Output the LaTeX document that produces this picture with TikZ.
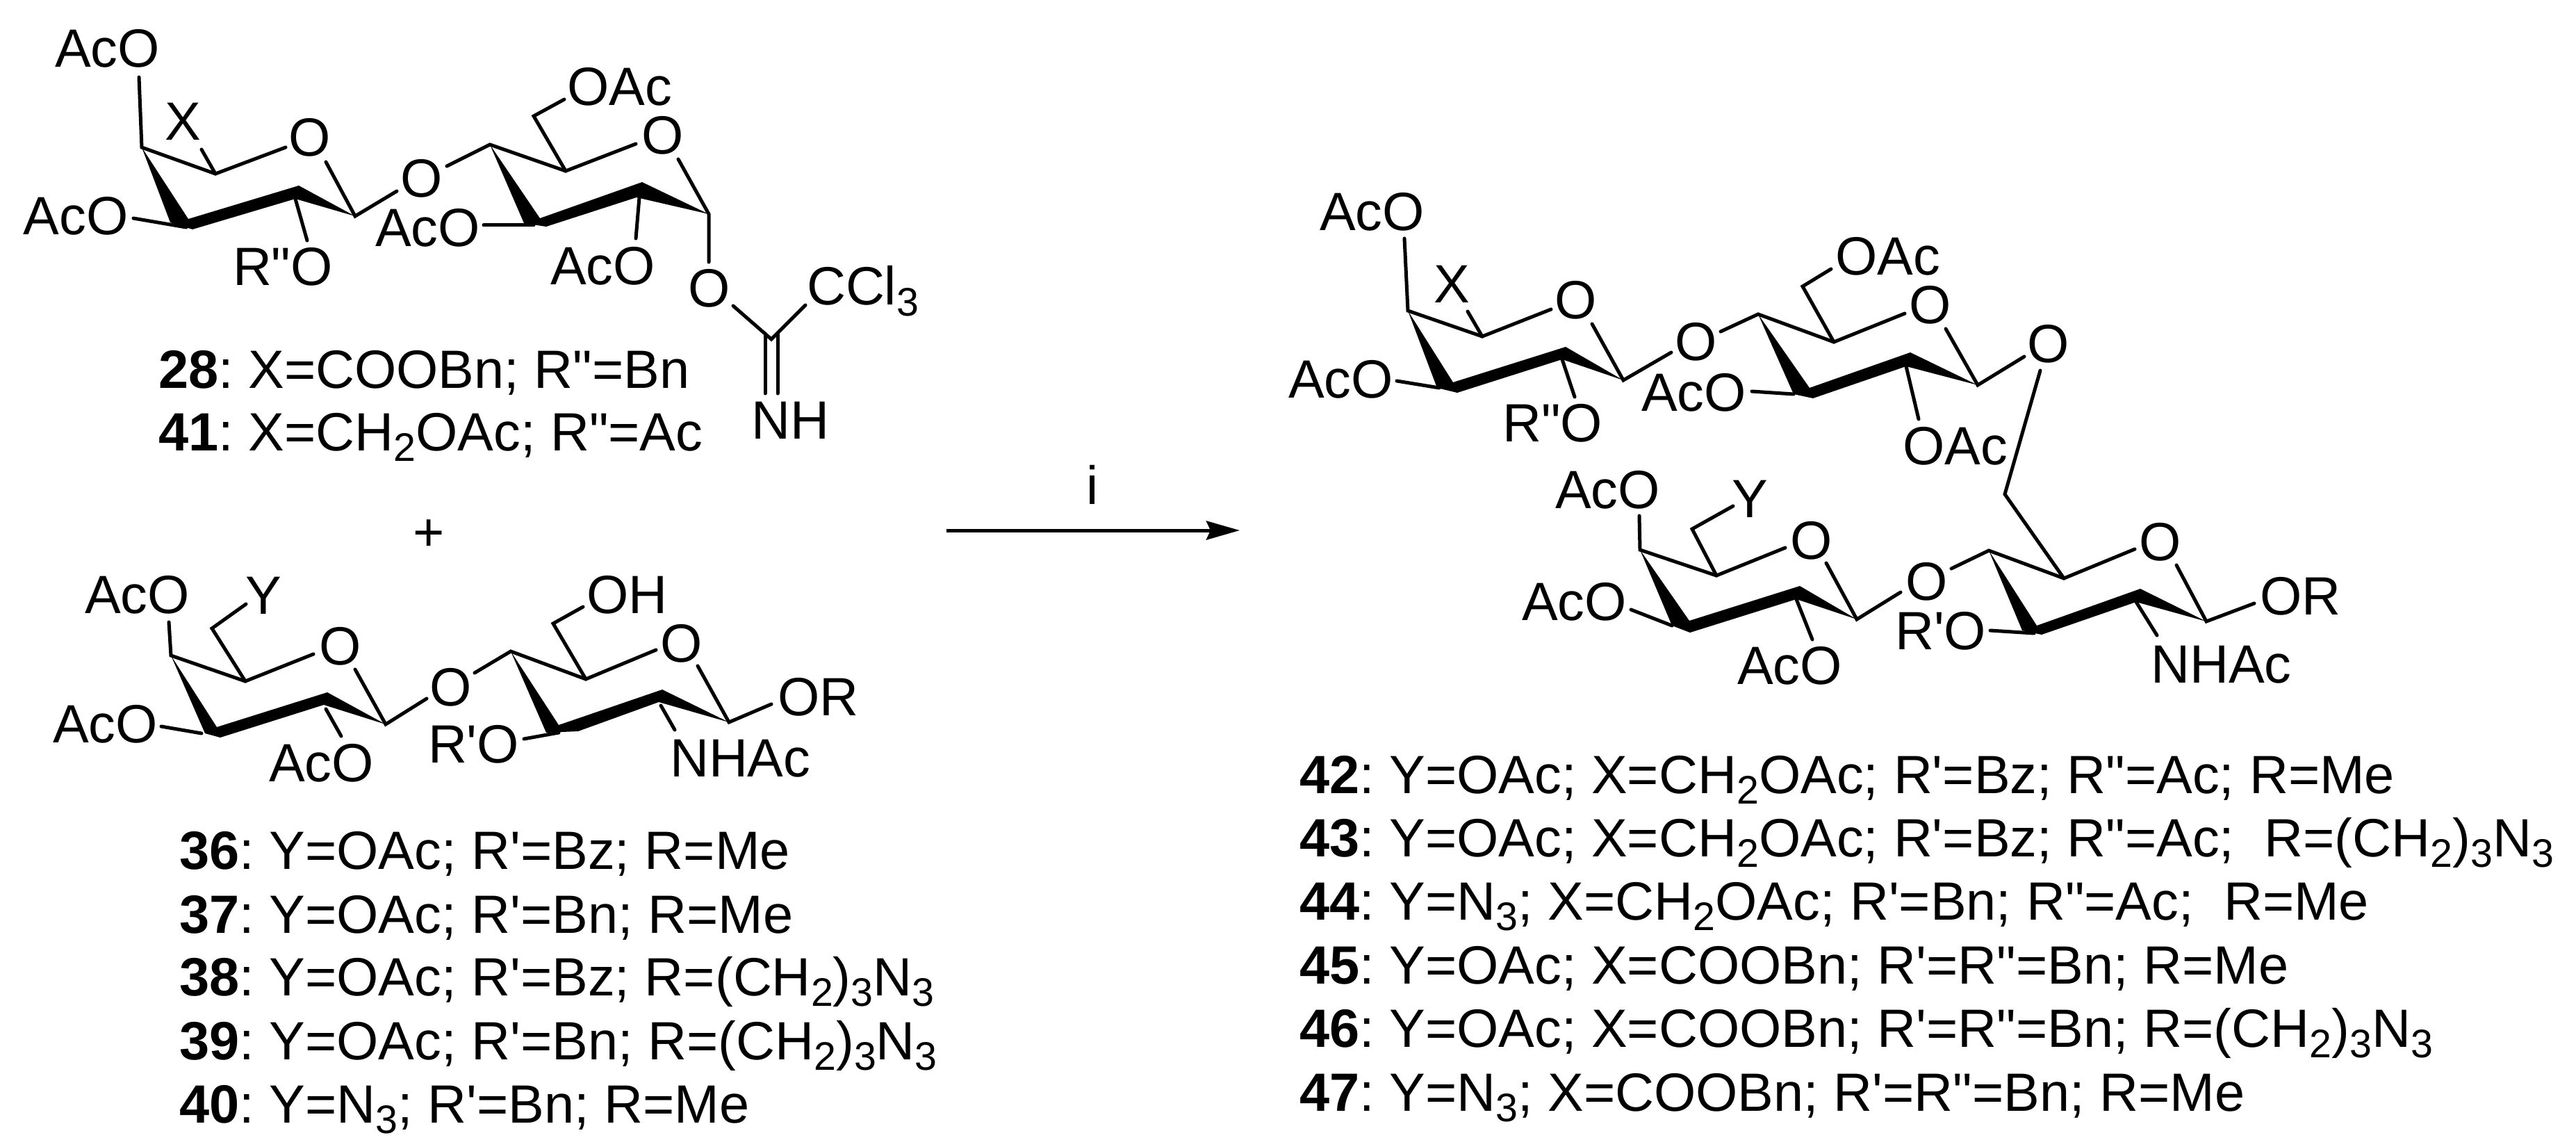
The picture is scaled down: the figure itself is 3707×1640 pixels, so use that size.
\documentclass[tikz,border=0pt]{standalone}
\usepackage{fontspec}
\usetikzlibrary{arrows.meta}
\newfontfamily\lib{Liberation Sans}
\newcommand\sbs[1]{\raisebox{-0.155cm}{\fontsize{16.3pt}{18pt}\selectfont #1}}
\newcommand\num[1]{{\bfseries #1}}
\tikzset{
  lab/.style={anchor=base west,inner sep=0pt,outer sep=0pt,font=\lib\fontsize{22.05pt}{26pt}\selectfont\frenchspacing},
  atomO/.style={lab,anchor=base},
  bond/.style={line width=0.05cm,line cap=round,line join=miter},
  wedgeb/.style={fill=black,draw=none},
  rxn/.style={line width=0.05cm,-{Stealth[length=0.48cm,width=0.27cm,inset=0.06cm]}}
}
\begin{document}
\begin{tikzpicture}[x=0.01cm,y=-0.01cm]
\useasboundingbox (0,0) rectangle (3707,1640);
\foreach \n/\x/\y in {
 a4/204/212,a5/310/250,a1/511/311,a2t/430/267,a2b/425/286,a3t/271/315,a3p/277/330,a3l/245/320,a3c/268/327,
 aTe/200/111,aXe/290/215,aOa/411/212,aOb/469/233,aLa/571/275,aLb/643/239,aRe/442/346,a3e/192/314,
 b4/705/208,b5/814/246,b6/768/167,b6e/812/143,bOa/915/207,bOb/976/229,b1/1020/308,b1e/1020/377,
 imO/1055/440,imC/1110/488,imCl/1159/439,imA/1101/480,imB/1101/566,imD/1119/480,imE/1119/566,
 b2t/924/262,b2b/916/284,b2s/920/284,b2e/915/343,b3t/777/314,b3p/786/326,b3l/754/321,b3c/768/324,b3e/696/324,
 c4/246/943,c5/353/980,c6/305/904,cYe/354/869,cTe/243/895,cOa/451/941,cOb/511/963,c1/555/1042,cLa/614/1005,cLb/683/968,
 c2t/471/996,c2b/466/1014,c2s/469/1020,c2e/491/1059,c3t/312/1046,c3p/317/1061,c3l/295/1055,c3c/290/1055,c3e/232/1045,
 f4/735/937,f5/843/977,f6/796/897,f6e/839/873,fOa/944/935,fOb/1004/958,f1/1049/1039,f1e/1110/1013,
 f2t/953/992,f2b/948/1010,f2s/951/1015,f2e/971/1050,f3t/804/1043,f3p/832/1052,f3l/786/1054,f3c/804/1054,f3e/754/1063,
 d4/2026/447,d5/2133/484,dTe/2021/343,dXe/2112/448,dOa/2232/445,dOb/2291/466,d1/2336/547,dLa/2405/507,dLb/2476/477,
 d2t/2253/499,d2b/2248/517,d2e/2266/571,d3t/2091/550,d3p/2097/565,d3l/2068/558,d3c/2071/558,d3e/2010/548,
 g4/2530/452,g5/2639/492,g6/2594/412,g6e/2635/387,gOa/2741/451,gOb/2800/473,g1/2846/554,g1e/2913/513,
 g2t/2749/507,g2b/2743/527,g2e/2761/603,g3t/2604/558,g3p/2609/573,g3l/2581/567,g3c/2581/567,g3e/2521/563,
 lkT/2936/533,lkB/2885/711,
 e4/2360/791,e5/2470/828,e6/2435/761,eYe/2494/728,eTe/2359/742,eOa/2569/788,eOb/2628/810,e1/2672/891,eLa/2735/852,eLb/2808/818,
 e2t/2590/843,e2b/2585/862,e2e/2608/920,e3t/2431/893,e3p/2432/910,e3l/2406/900,e3c/2406/900,e3e/2347/877,
 h4/2862/792,h5/2970/832,hOa/3072/790,hOb/3132/813,h1/3175/894,h1e/3244/868,
 h2t/3080/847,h2b/3074/866,h2e/3104/914,h3t/2931/900,h3p/2938/913,h3l/2910/907,h3c/2927/911,h3e/2864/907,
 arS/1362/763,arE/1784/763}
 {\coordinate (\n) at (\x,\y);}

% disaccharide 28/41
\fill[wedgeb] (a4)--(a3l)--(a3p)--(a2b)--(a1)--(a2t)--(a3t)--cycle;
\fill[wedgeb] (b4)--(b3l)--(b3p)--(b2b)--(b1)--(b2t)--(b3t)--cycle;
\draw[bond] (aTe)--(a4)--(a5)--(aOa);
\draw[bond] (aXe)--(a5);
\draw[bond] (aOb)--(a1)--(aLa);
\draw[bond] (a2b)--(aRe);
\draw[bond] (a3e)--(a3c);
\draw[bond] (aLb)--(b4)--(b5)--(bOa);
\draw[bond] (b6e)--(b6)--(b5);
\draw[bond] (bOb)--(b1)--(b1e);
\draw[bond] (b2s)--(b2e);
\draw[bond] (b3e)--(b3c);
\draw[bond] (imO)--(imC)--(imCl);
\draw[bond] (imA)--(imB);
\draw[bond] (imD)--(imE);
\node[lab] (n1) at (79,97) {AcO};
\node[lab] (n2) at (237,202) {X};
\node[atomO] (n3) at (446,225) {O};
\node[lab] (n4) at (34,338) {AcO};
\node[atomO] (n5) at (607,284) {O};
\node[lab] (n6) at (335,411) {R"O};
\node[lab] (n7) at (540,355) {AcO};
\node[lab] (n8) at (816,152) {OAc};
\node[atomO] (n9) at (954,222) {O};
\node[lab] (n10) at (792,410) {AcO};
\node[atomO] (n11) at (1021,442) {O};
\node[lab] (n12) at (1161,439) {CCl\sbs{3}};
\node[lab] (n13) at (1081,631) {NH};
\node[lab] (t28) at (228,558) {\num{28}: X=COOBn; R"=Bn};
\node[lab] (t41) at (228,648) {\num{41}: X=CH\sbs{2}OAc; R"=Ac};
\node[lab,anchor=base] (plus) at (617,792) {+};

% disaccharide 36-40
\fill[wedgeb] (c4)--(c3l)--(c3p)--(c2b)--(c1)--(c2t)--(c3t)--cycle;
\fill[wedgeb] (f4)--(f3l)--(f3p)--(f2b)--(f1)--(f2t)--(f3t)--cycle;
\draw[bond] (cTe)--(c4)--(c5)--(cOa);
\draw[bond] (cYe)--(c6)--(c5);
\draw[bond] (cOb)--(c1)--(cLa);
\draw[bond] (c2s)--(c2e);
\draw[bond] (c3e)--(c3c);
\draw[bond] (cLb)--(f4)--(f5)--(fOa);
\draw[bond] (f6e)--(f6)--(f5);
\draw[bond] (fOb)--(f1)--(f1e);
\draw[bond] (f2s)--(f2e);
\draw[bond] (f3e)--(f3c);
\node[lab] (m1) at (122,882) {AcO};
\node[lab] (m2) at (353,883) {Y};
\node[atomO] (m3) at (490,956) {O};
\node[atomO] (m4) at (649,1015) {O};
\node[lab] (m5) at (76,1068) {AcO};
\node[lab] (m6) at (387,1124) {AcO};
\node[lab] (m7) at (844,882) {OH};
\node[atomO] (m8) at (981,952) {O};
\node[lab] (m9) at (1119,1029) {OR};
\node[lab] (m10) at (616,1097) {R'O};
\node[lab] (m11) at (964,1117) {NHAc};
\node[lab] (t36) at (258,1250) {\num{36}: Y=OAc; R'=Bz; R=Me};
\node[lab] (t37) at (258,1342) {\num{37}: Y=OAc; R'=Bn; R=Me};
\node[lab] (t38) at (258,1432) {\num{38}: Y=OAc; R'=Bz; R=(CH\sbs{2})\sbs{3}N\sbs{3}};
\node[lab] (t39) at (258,1524) {\num{39}: Y=OAc; R'=Bn; R=(CH\sbs{2})\sbs{3}N\sbs{3}};
\node[lab] (t40) at (258,1615) {\num{40}: Y=N\sbs{3}; R'=Bn; R=Me};

% arrow
\draw[rxn] (arS)--(arE);
\node[lab,anchor=base] (iLab) at (1572,725) {i};

% product: upper disaccharide
\fill[wedgeb] (d4)--(d3l)--(d3p)--(d2b)--(d1)--(d2t)--(d3t)--cycle;
\fill[wedgeb] (g4)--(g3l)--(g3p)--(g2b)--(g1)--(g2t)--(g3t)--cycle;
\draw[bond] (dTe)--(d4)--(d5)--(dOa);
\draw[bond] (dXe)--(d5);
\draw[bond] (dOb)--(d1)--(dLa);
\draw[bond] (d2b)--(d2e);
\draw[bond] (d3e)--(d3c);
\draw[bond] (dLb)--(g4)--(g5)--(gOa);
\draw[bond] (g6e)--(g6)--(g5);
\draw[bond] (gOb)--(g1)--(g1e);
\draw[bond] (g2b)--(g2e);
\draw[bond] (g3e)--(g3c);
\draw[bond] (lkT)--(lkB)--(h5);
\node[lab] (p1) at (1899,332) {AcO};
\node[lab] (p2) at (2063,436) {X};
\node[atomO] (p3) at (2268,459) {O};
\node[atomO] (p4) at (2441,519) {O};
\node[lab] (p5) at (1854,573) {AcO};
\node[lab] (p6) at (2162,636) {R"O};
\node[lab] (p7) at (2641,396) {OAc};
\node[atomO] (p8) at (2778,466) {O};
\node[lab] (p9) at (2362,591) {AcO};
\node[atomO] (p10) at (2948,522) {O};
\node[lab] (p11) at (2738,668) {OAc};

% product: lower disaccharide
\fill[wedgeb] (e4)--(e3l)--(e3p)--(e2b)--(e1)--(e2t)--(e3t)--cycle;
\fill[wedgeb] (h4)--(h3l)--(h3p)--(h2b)--(h1)--(h2t)--(h3t)--cycle;
\draw[bond] (eTe)--(e4)--(e5)--(eOa);
\draw[bond] (eYe)--(e6)--(e5);
\draw[bond] (eOb)--(e1)--(eLa);
\draw[bond] (e2b)--(e2e);
\draw[bond] (e3e)--(e3c);
\draw[bond] (eLb)--(h4)--(h5)--(hOa);
\draw[bond] (hOb)--(h1)--(h1e);
\draw[bond] (h2b)--(h2e);
\draw[bond] (h3e)--(h3c);
\node[lab] (q1) at (2238,731) {AcO};
\node[lab] (q2) at (2492,744) {Y};
\node[atomO] (q3) at (2607,804) {O};
\node[atomO] (q4) at (2773,863) {O};
\node[lab] (q5) at (2190,892) {AcO};
\node[lab] (q6) at (2500,984) {AcO};
\node[atomO] (q7) at (3109,806) {O};
\node[lab] (q8) at (3252,884) {OR};
\node[lab] (q9) at (2727,934) {R'O};
\node[lab] (q10) at (3095,982) {NHAc};

\node[lab] (t42) at (1870,1141) {\num{42}: Y=OAc; X=CH\sbs{2}OAc; R'=Bz; R"=Ac; R=Me};
\node[lab] (t43) at (1870,1232) {\num{43}: Y=OAc; X=CH\sbs{2}OAc; R'=Bz; R"=Ac;\ \ R=(CH\sbs{2})\sbs{3}N\sbs{3}};
\node[lab] (t44) at (1870,1323) {\num{44}: Y=N\sbs{3}; X=CH\sbs{2}OAc; R'=Bn; R"=Ac;\ \ R=Me};
\node[lab] (t45) at (1870,1415) {\num{45}: Y=OAc; X=COOBn; R'=R"=Bn; R=Me};
\node[lab] (t46) at (1870,1506) {\num{46}: Y=OAc; X=COOBn; R'=R"=Bn; R=(CH\sbs{2})\sbs{3}N\sbs{3}};
\node[lab] (t47) at (1870,1598) {\num{47}: Y=N\sbs{3}; X=COOBn; R'=R"=Bn; R=Me};
\end{tikzpicture}
\end{document}
